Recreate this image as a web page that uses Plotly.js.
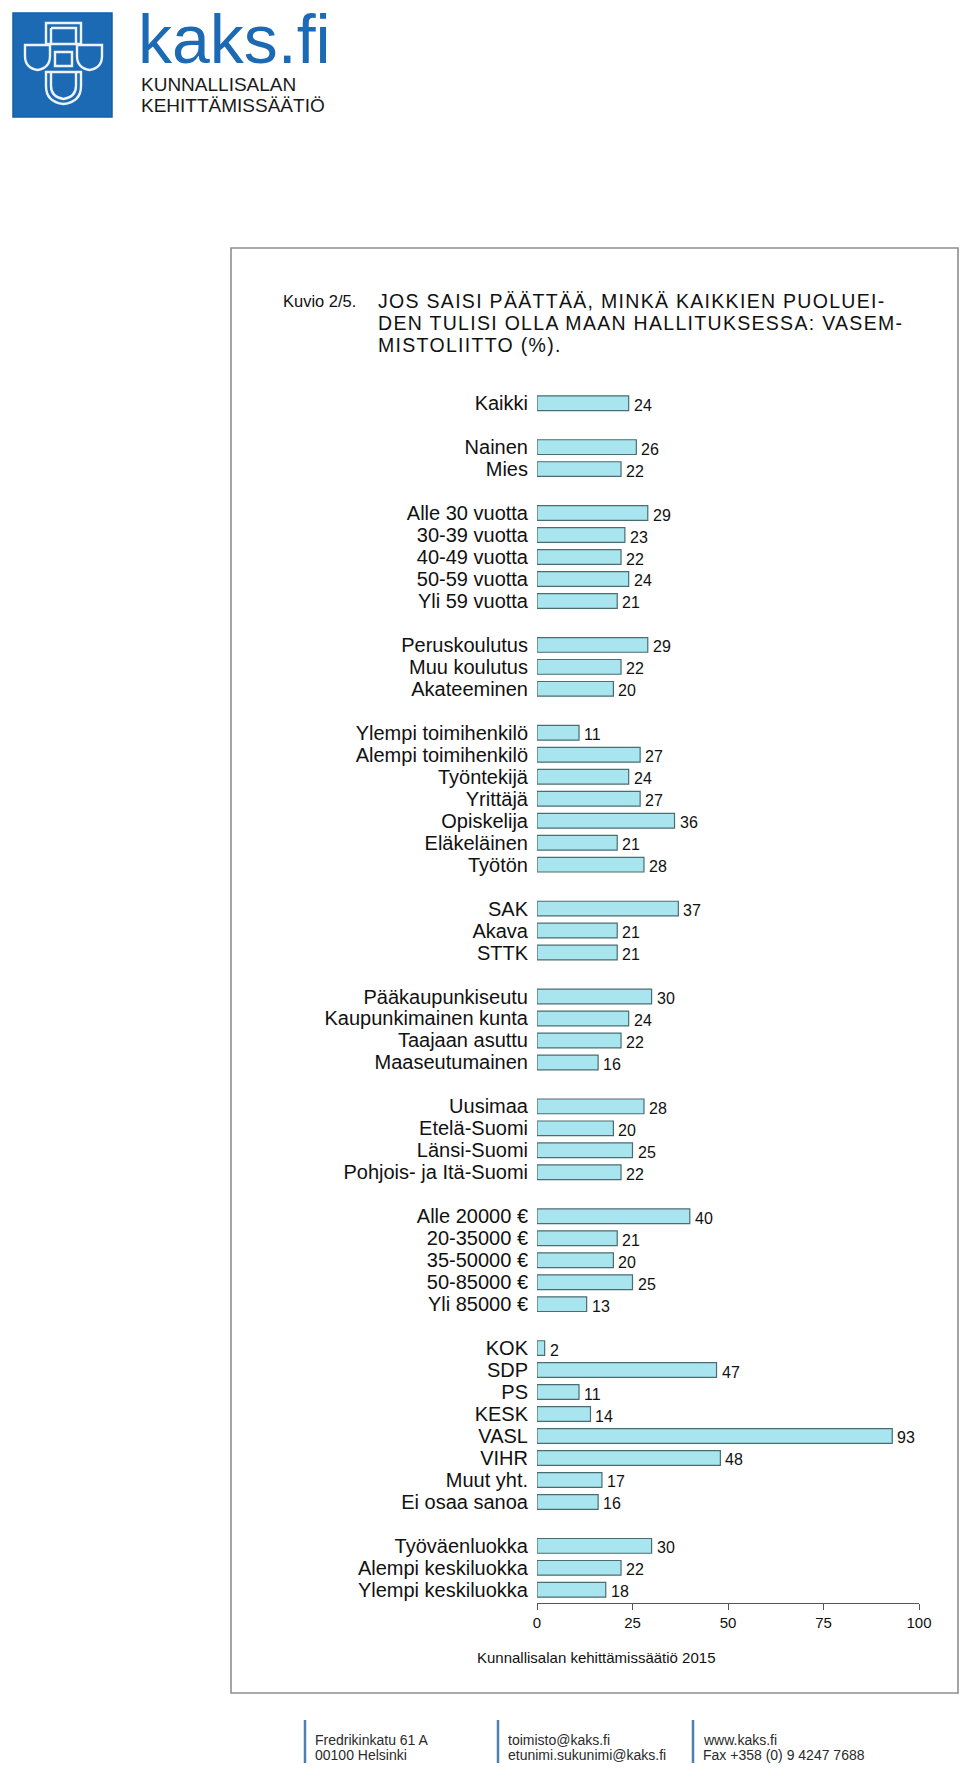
<!DOCTYPE html>
<html>
<head>
<meta charset="utf-8">
<script src="https://cdn.plot.ly/plotly-3.0.1.min.js"></script>
<style>
  html, body { margin: 0; padding: 0; background: #ffffff; }
  #chart { width: 960px; height: 1773px; }
</style>
</head>
<body>
<div id="chart"></div>
<script>
// ---- Data ----
const categories = [
  'Kaikki',
  'Nainen', 'Mies',
  'Alle 30 vuotta', '30-39 vuotta', '40-49 vuotta', '50-59 vuotta', 'Yli 59 vuotta',
  'Peruskoulutus', 'Muu koulutus', 'Akateeminen',
  'Ylempi toimihenkilö', 'Alempi toimihenkilö', 'Työntekijä', 'Yrittäjä', 'Opiskelija', 'Eläkeläinen', 'Työtön',
  'SAK', 'Akava', 'STTK',
  'Pääkaupunkiseutu', 'Kaupunkimainen kunta', 'Taajaan asuttu', 'Maaseutumainen',
  'Uusimaa', 'Etelä-Suomi', 'Länsi-Suomi', 'Pohjois- ja Itä-Suomi',
  'Alle 20000 €', '20-35000 €', '35-50000 €', '50-85000 €', 'Yli 85000 €',
  'KOK', 'SDP', 'PS', 'KESK', 'VASL', 'VIHR', 'Muut yht.', 'Ei osaa sanoa',
  'Työväenluokka', 'Alempi keskiluokka', 'Ylempi keskiluokka'
];
const values = [
  24,
  26, 22,
  29, 23, 22, 24, 21,
  29, 22, 20,
  11, 27, 24, 27, 36, 21, 28,
  37, 21, 21,
  30, 24, 22, 16,
  28, 20, 25, 22,
  40, 21, 20, 25, 13,
  2, 47, 11, 14, 93, 48, 17, 16,
  30, 22, 18
];
const groupSizes = [1, 2, 5, 3, 7, 3, 4, 4, 5, 8, 3];
const xTicks = [0, 25, 50, 75, 100];

const titleSmall = 'Kuvio 2/5.';
const titleLines = [
  'JOS SAISI PÄÄTTÄÄ, MINKÄ KAIKKIEN PUOLUEI-',
  'DEN TULISI OLLA MAAN HALLITUKSESSA: VASEM-',
  'MISTOLIITTO (%).'
];
const sourceText = 'Kunnallisalan kehittämissäätiö 2015';
const footerBlocks = [
  ['Fredrikinkatu 61 A', '00100 Helsinki'],
  ['toimisto@kaks.fi', 'etunimi.sukunimi@kaks.fi'],
  ['www.kaks.fi', 'Fax +358 (0) 9 4247 7688']
];

// ---- Row positions (one empty slot between groups) ----
const pos = [];
let slot = 0;
groupSizes.forEach(n => {
  for (let i = 0; i < n; i++) pos.push(slot++);
  slot++;
});
const lastPos = pos[pos.length - 1];

// ---- Layout geometry ----
const W = 960, H = 1773;
const M = { l: 537, r: 41, t: 390, b: 170 };
const PW = W - M.l - M.r, PH = H - M.t - M.b;
const X = px => (px - M.l) / PW;
const Y = py => (H - M.b - py) / PH;
const FONT = '"Liberation Sans", Arial, Helvetica, sans-serif';

function path(pts) {
  return pts.map(p => {
    if (p[0] === 'Z') return 'Z';
    const coords = [];
    for (let i = 1; i < p.length; i += 2) coords.push(X(p[i]).toFixed(5) + ',' + Y(p[i + 1]).toFixed(5));
    return p[0] + coords.join(' ');
  }).join(' ');
}

const shapes = [];
// frame around chart
shapes.push({ type: 'rect', xref: 'paper', yref: 'paper', x0: X(231), x1: X(958), y0: Y(248), y1: Y(1693),
  line: { color: '#8f8f8f', width: 1.6 }, fillcolor: 'rgba(0,0,0,0)', layer: 'below' });
// logo square
shapes.push({ type: 'rect', xref: 'paper', yref: 'paper', x0: X(13), x1: X(112), y0: Y(13), y1: Y(117),
  line: { color: '#155fa3', width: 1.5 }, fillcolor: '#1d6ab4' });
// emblem outlines (white)
const emb = { color: '#eef3f9', width: 2.4 };
const emblemPaths = [
  [['M', 46, 23], ['L', 81, 23], ['L', 81, 44], ['L', 46, 44], ['Z']],
  [['M', 51, 28], ['L', 76, 28], ['L', 76, 44]],
  [['M', 51, 28], ['L', 51, 44]],
  [['M', 25, 45], ['L', 50, 45], ['L', 50, 56], ['Q', 50, 68, 37.5, 70], ['Q', 25, 68, 25, 56], ['Z']],
  [['M', 77, 45], ['L', 102, 45], ['L', 102, 56], ['Q', 102, 68, 89.5, 70], ['Q', 77, 68, 77, 56], ['Z']],
  [['M', 55, 52], ['L', 72, 52], ['L', 72, 66], ['L', 55, 66], ['Z']],
  [['M', 46, 72], ['L', 81, 72], ['L', 81, 86], ['Q', 81, 102, 63.5, 104], ['Q', 46, 102, 46, 86], ['Z']],
  [['M', 51, 72], ['L', 51, 86], ['Q', 51, 97, 63.5, 99], ['Q', 76, 97, 76, 86], ['L', 76, 72]]
];
emblemPaths.forEach(p => shapes.push({ type: 'path', xref: 'paper', yref: 'paper', path: path(p), line: emb, fillcolor: 'rgba(0,0,0,0)' }));
// footer blue bars
[305, 498, 693].forEach(x => shapes.push({ type: 'line', xref: 'paper', yref: 'paper',
  x0: X(x), x1: X(x), y0: Y(1720), y1: Y(1763), line: { color: '#4d7fb0', width: 2.5 } }));

const annotations = [];
function textAt(text, xpx, baseline, size, opts = {}) {
  annotations.push(Object.assign({
    xref: 'paper', yref: 'paper', x: X(xpx), y: Y(baseline - 0.35 * size),
    xanchor: 'left', yanchor: 'middle', showarrow: false, text: text,
    font: { family: FONT, size: size, color: '#111111' }
  }, opts));
}
// logo text
textAt('kaks.fi', 136, 63, 68, { font: { family: FONT, size: 68, color: '#1d6ab4' } });
textAt('KUNNALLISALAN', 139, 91, 19, { font: { family: FONT, size: 19, color: '#1a1a1a' } });
textAt('KEHITTÄMISSÄÄTIÖ', 139, 112, 19, { font: { family: FONT, size: 19, color: '#1a1a1a' } });
// titles
textAt(titleSmall, 281, 307, 16.5);
// main title: one block, 22px line pitch (1.3 x 16.92), glyphs 19.5px, slightly tracked
annotations.push({
  xref: 'paper', yref: 'paper', x: X(377), y: Y(289), xanchor: 'left', yanchor: 'top',
  align: 'left', showarrow: false, borderpad: 0,
  text: titleLines.map(t => '<span style="font-size:19.5px;letter-spacing:1.3px">' + t + '</span>').join('<br>'),
  font: { family: FONT, size: 16.92, color: '#111111' }
});
// source
textAt(sourceText, 596, 1663, 15, { xanchor: 'center' });
// footer
const footerX = [313, 506, 701];
footerBlocks.forEach((lines, i) => {
  lines.forEach((t, j) => textAt(t, footerX[i], 1745 + 15 * j, 14,
    { font: { family: FONT, size: 14, color: '#2a2a2a' } }));
});
// value labels at bar ends
values.forEach((v, i) => annotations.push({
  xref: 'x', yref: 'y', x: v, y: pos[i], xanchor: 'left', yanchor: 'middle',
  xshift: 3, yshift: -2, showarrow: false, text: String(v),
  font: { family: FONT, size: 16, color: '#111111' }
}));

const bars = {
  type: 'bar',
  orientation: 'h',
  x: values,
  y: pos,
  width: 0.67,
  marker: { color: '#a8e5ee', line: { color: '#4a6d72', width: 1.2 } },
  hoverinfo: 'none'
};

const layout = {
  width: W, height: H,
  margin: M,
  paper_bgcolor: '#ffffff', plot_bgcolor: '#ffffff',
  showlegend: false,
  font: { family: FONT, color: '#111111' },
  xaxis: {
    range: [0, 100], tickvals: xTicks, ticktext: xTicks.map(String),
    ticks: 'outside', ticklen: 6, tickwidth: 1, tickcolor: '#555555',
    showline: true, linecolor: '#555555', linewidth: 1,
    showgrid: false, zeroline: false, fixedrange: true,
    tickfont: { family: FONT, size: 15, color: '#111111' }
  },
  yaxis: {
    range: [lastPos + 0.6, -0.6], tickvals: pos, ticktext: categories,
    ticks: '', showline: false, showgrid: false, zeroline: false, fixedrange: true,
    ticklabelstandoff: 8,
    tickfont: { family: FONT, size: 20, color: '#111111' }
  },
  shapes: shapes,
  annotations: annotations
};

Plotly.newPlot('chart', [bars], layout, { staticPlot: true, displayModeBar: false });
</script>
</body>
</html>
